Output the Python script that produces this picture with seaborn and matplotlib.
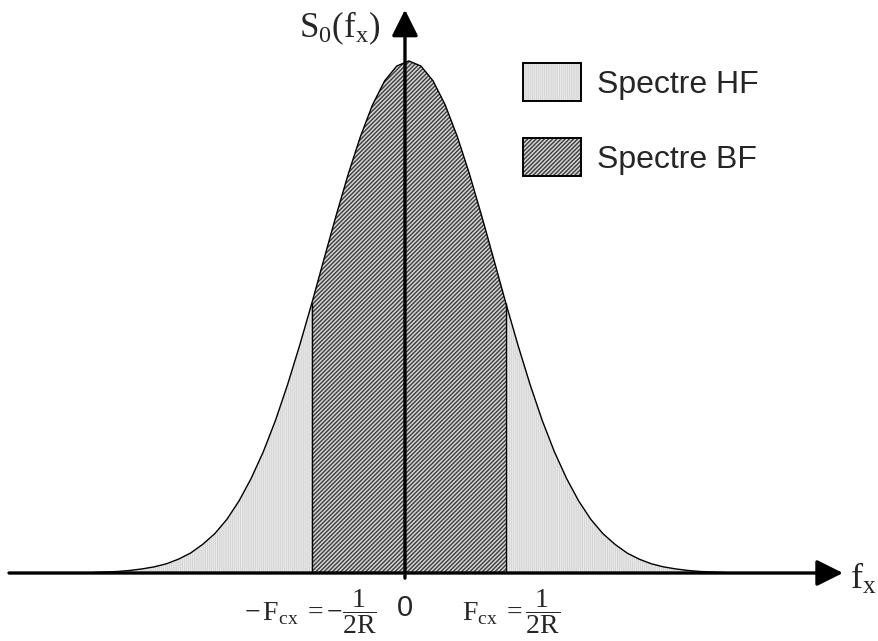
import numpy as np
import matplotlib
matplotlib.use("Agg")
import matplotlib.pyplot as plt
import matplotlib.patches as mpatches
import seaborn as sns

# spectrum (frequency in units of Fcx, amplitude normalised to the peak)
freq = [-3.21, -3.085, -2.96, -2.835, -2.71, -2.585, -2.46, -2.335, -2.21, -2.085,
        -1.96, -1.835, -1.71, -1.585, -1.46, -1.335, -1.21, -1.085, -0.96, -0.835,
        -0.71, -0.585, -0.46, -0.335, -0.21, -0.085, 0.04, 0.165, 0.29, 0.415,
        0.54, 0.665, 0.79, 0.915, 1.04, 1.165, 1.29, 1.415, 1.54, 1.665,
        1.79, 1.915, 2.04, 2.165, 2.29, 2.415, 2.54, 2.665, 2.79, 2.915,
        3.04, 3.165, 3.29]
spectrum = [0.001, 0.002, 0.003, 0.005, 0.008, 0.012, 0.018, 0.027, 0.039, 0.056,
            0.077, 0.105, 0.141, 0.185, 0.237, 0.298, 0.368, 0.445, 0.527, 0.613,
            0.698, 0.779, 0.852, 0.914, 0.961, 0.990, 1.0, 0.990, 0.961, 0.914,
            0.852, 0.779, 0.698, 0.613, 0.527, 0.445, 0.368, 0.298, 0.237, 0.185,
            0.141, 0.105, 0.077, 0.056, 0.039, 0.027, 0.018, 0.012, 0.008, 0.005,
            0.003, 0.002, 0.001]
band_edges = [-0.96, 1.04]   # -Fcx and +Fcx as drawn
legend_labels = ["Spectre HF", "Spectre BF"]

sns.set_style("white")
plt.rcParams["mathtext.fontset"] = "custom"
plt.rcParams["mathtext.rm"] = "Liberation Serif"
plt.rcParams["mathtext.it"] = "Liberation Serif:italic"
plt.rcParams["hatch.linewidth"] = 1.0

f = np.array(freq)
s = np.array(spectrum)

fig = plt.figure(figsize=(8.79, 6.41), dpi=100)
ax = fig.add_axes([0, 0, 1, 1])
ax.set_xlim(-4.175, 4.887)
ax.set_ylim(-0.1328, 1.119)
ax.axis("off")

hf_face, hf_hatch, hf_pat = "#f0f0f0", "#d6d6d6", "|" * 8
bf_face, bf_hatch, bf_pat = "#d4d4d4", "#3c3c3c", "/" * 8

# high-frequency part (whole curve), then low-frequency band on top
ax.fill_between(f, 0, s, facecolor=hf_face, edgecolor=hf_hatch, hatch=hf_pat, linewidth=0)
band = (f >= band_edges[0]) & (f <= band_edges[1])
ax.fill_between(f[band], 0, s[band], facecolor=bf_face, edgecolor=bf_hatch, hatch=bf_pat, linewidth=0)
sns.lineplot(x=f, y=s, color="black", lw=1.0, ax=ax, legend=False)
edge_h = s[np.isin(f, band_edges)]
ax.vlines(band_edges, 0, edge_h, color="black", lw=1.0)

# axes with arrows
head = dict(arrowstyle="-|>,head_length=0.8,head_width=0.4", mutation_scale=20,
            lw=2.4, color="black", shrinkA=0, shrinkB=0)
ax.annotate("", xy=(4.515, 0), xytext=(-4.082, 0), arrowprops=head)
ax.annotate("", xy=(0, 1.1), xytext=(0, -0.01), arrowprops=head)

ax.text(-0.26, 1.064, r"$\mathrm{S_0(f_x)}$", fontsize=25, ha="right", va="center")
ax.text(4.59, -0.01, r"$\mathrm{f_x}$", fontsize=26, ha="left", va="center")
ax.text(0.0, -0.068, "0", fontsize=21, ha="center", va="center", family="Liberation Sans")
ax.text(-0.974, -0.076, r"$-\,\mathrm{F_{cx}}\;=-\dfrac{\mathrm{1}}{\mathrm{2R}}$",
        fontsize=20, ha="center", va="center")
ax.text(1.093, -0.076, r"$\mathrm{F_{cx}}\;=\dfrac{\mathrm{1}}{\mathrm{2R}}$",
        fontsize=20, ha="center", va="center")

handles = [(mpatches.Patch(facecolor=hf_face, edgecolor=hf_hatch, hatch=hf_pat, lw=0),
            mpatches.Patch(fill=False, edgecolor="black", lw=1.4)),
           (mpatches.Patch(facecolor=bf_face, edgecolor=bf_hatch, hatch=bf_pat, lw=0),
            mpatches.Patch(fill=False, edgecolor="black", lw=1.4))]
ax.legend(handles, legend_labels, loc="upper left", bbox_to_anchor=(523 / 879, 1 - 63 / 641),
          frameon=False, handlelength=1.82, handleheight=1.45,
          handletextpad=0.5, labelspacing=1.17, borderpad=0, borderaxespad=0,
          prop={"family": "Liberation Sans", "size": 23})

fig.savefig("out.png", dpi=100)
